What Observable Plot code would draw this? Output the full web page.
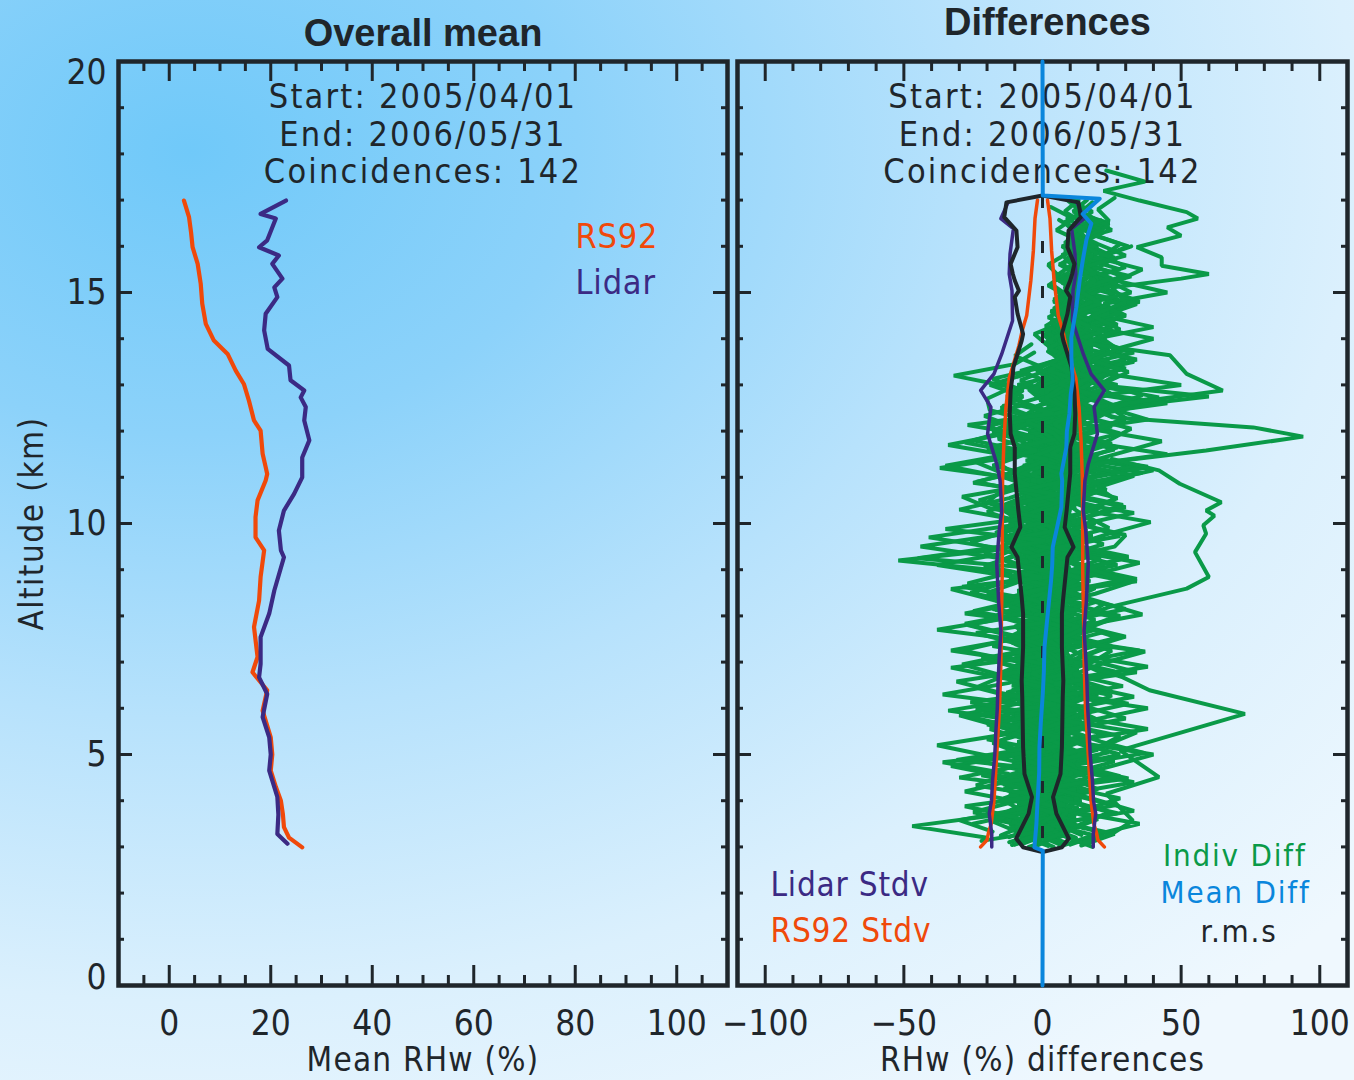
<!DOCTYPE html>
<html><head><meta charset="utf-8">
<script src="https://cdn.jsdelivr.net/npm/d3@7"></script>
<script src="https://cdn.jsdelivr.net/npm/@observablehq/plot@0.6"></script>
<style>
html,body{margin:0;padding:0;}
body{width:1354px;height:1080px;overflow:hidden;position:relative;
 background: radial-gradient(ellipse 115% 105% at 14% 14%, #70c9f9 0%, #8cd2fa 25%, #b7e2fc 50%, #dbf0fd 75%, #eff8fe 100%);}
.panel{position:absolute;top:0;}
svg text{font-stretch:condensed;}
</style></head>
<body>
<div id="left" class="panel" style="left:0px"></div>
<div id="right" class="panel" style="left:730px"></div>
<script>
// ---------- Left panel: overall mean ----------
const rs92Alt  = [2.99,3.2,3.43,3.7,4.0,4.3,4.65,5.0,5.37,5.95,6.39,6.78,7.11,7.76,8.33,8.84,9.42,9.7,10.14,10.5,10.93,11.07,11.22,11.51,12.01,12.23,12.66,13.02,13.31,13.67,13.96,14.32,14.76,15.19,15.62,15.98,16.3,16.63,16.99];
const rs92Mean = [26.2,23.6,22.6,22.4,22.0,21.0,20.0,20.3,20.0,18.4,19.3,16.4,17.4,16.7,17.7,18.0,18.7,17.0,17.0,17.4,19.0,19.3,19.0,18.4,18.0,16.7,15.7,14.7,13.1,11.5,8.8,7.2,6.5,6.2,5.6,4.6,4.3,3.9,2.9];
const lidarAlt  = [3.07,3.28,3.7,4.08,4.65,5.0,5.37,5.81,6.31,6.67,6.96,7.54,8.05,8.55,9.27,9.42,9.85,10.28,10.64,11.0,11.43,11.8,12.23,12.52,12.73,12.88,13.1,13.42,13.78,14.18,14.54,14.9,15.11,15.3,15.62,15.8,15.98,16.13,16.6,16.7,16.99];
const lidarMean = [23.3,21.3,21.5,21.3,19.7,20.0,19.7,18.4,19.3,17.7,18.0,18.0,19.7,20.7,22.6,22.0,21.6,22.6,24.6,26.2,26.2,27.6,26.6,26.9,25.9,26.6,23.9,23.6,19.4,18.7,19.0,21.3,20.7,22.3,20.3,21.6,17.7,19.3,21.0,18.0,23.0];

// ---------- Right panel: differences ----------
const meanDiffAlt = [0,2.92,2.99,3.5,4.08,4.6,5.16,5.7,6.31,6.8,7.32,8.05,8.77,9.1,9.49,9.9,10.35,10.93,11.08,11.65,12.0,12.37,12.8,13.1,13.6,14.03,14.68,15.26,15.69,16.13,16.49,16.7,17.03,17.1,20];
const meanDiff    = [0,0.1,-2.9,-2.2,-1.7,-1.2,-1.1,-0.6,0.1,0.5,0.7,1.9,3.1,3.5,3.7,5.2,6.8,7.1,6.8,8.6,8.8,9.7,10.2,10.9,10.4,10.4,12.2,13.4,14.5,15.8,17.6,14.5,20.6,0.1,0];
const rmsAlt = [2.89,2.99,3.18,3.72,4.08,4.58,5.16,6.24,6.6,7.32,8.05,8.4,9.27,9.49,9.92,10.28,11.08,11.65,11.94,12.37,12.88,13.24,13.38,13.96,14.1,14.54,14.9,15.04,15.26,15.4,15.62,15.98,16.34,16.63,16.95,17.1];
const rms    = [0,7,9.5,5,3.8,6.5,7,7.3,7.5,7,7,7.5,9,11.2,8,8.7,10,10,11.5,11.8,11.5,10.7,10.5,7.5,7,9,10,8.5,10,10.7,11.5,9,9.4,13.8,13,0];
const lidarStdvAlt = [3.0,3.28,3.72,4.0,4.44,5.0,5.52,6.0,6.6,7.1,7.68,8.3,9.13,9.85,10.28,10.93,11.29,11.94,12.52,12.88,13.24,13.67,14.39,15.04,15.4,15.84,16.38,16.6,16.95];
const lidarStdv    = [18.3,18.3,19.2,18.4,18.0,17.2,16.8,16.3,16.0,15.6,15.0,15.8,16.5,15.6,14.7,15.3,16.5,19.8,18.6,22.3,17.5,14.7,10.8,11.0,12.0,11.7,10.5,15.0,12.4];
const rs92StdvAlt = [3.0,3.15,3.3,3.5,4.0,4.5,5.0,6.0,7.0,8.0,9.0,10.0,10.93,11.8,12.5,13.15,13.85,14.18,14.5,15.26,15.9,16.6,17.0];
const rs92Stdv    = [22.3,20.0,19.5,18.5,17.5,17.0,16.5,15.5,15.0,14.8,14.5,14.5,14.4,13.9,13.2,12.0,8.5,7.3,5.7,4.2,3.3,2.7,1.8];

// Individual differences (142 coincidences; a readable subset, 0.25 km steps from each start altitude)
const indivStart = [3.0,3.1,3.05,3.2,3.15,3.0,3.25,3.1,3.0,3.2,3.3,3.0,3.4,3.15,3.35,13.0,12.5,3.05,3.5,3.0,3.2,
                    3.02,3.07,3.12,3.17,3.22,3.27,3.32,3.37,3.42,3.47,12.0,12.1,12.2,12.3,12.8,
                    3.04,3.09,3.14,3.19,3.24,3.29,3.34,3.39,3.44,3.06,3.11,3.16,3.21,3.26,
                    3.13,3.23,3.33,3.03];
const indiv01 = [-5,8,-12,4,14,-3,6,-9,10,2,-7,12,-4,5,-11,7,15,-2,3,-8,9,1,-6,13,4,-10,6,18,2,-5,9,16,3,-7,11,20,5,14,-4,9,22,12,4,17,8,25,13,6,19,11,28,14,7,20,12,18,10];
const indiv02 = [-12,2,-18,-6,5,-14,-3,-22,-8,3,-15,-30,-9,0,-12,-5,6,-18,-10,-2,-25,-7,4,-11,-38,-14,-4,3,-9,-16,-6,5,-12,-2,8,-7,-20,-4,6,1,-8,3,10,2,-3,7,12,4,15,6,2,9,14,5,11,3];
const indiv03 = [10,22,6,15,28,9,18,5,24,12,38,14,7,20,11,26,8,16,30,13,6,19,10,34,15,8,22,12,5,17,27,11,20,9,14,24,32,16,10,25,18,12,30,21,15,27,19,35,24,17,30,22,28,16,24,20,26];
const indiv04 = [-20,-47,-15,-6,-28,-10,2,-18,-38,-12,-5,-34,-8,-24,-14,-29,-9,-4,-38,-13,0,-16,-27,-11,-52,-14,-41,-12,-8,-20,-15,-6,-37,-10,-34,-13,-3,-19,-20,-11,-32,-10,-3];
const indiv05 = [3,-8,12,-2,7,-10,1,9,-6,15,0,-4,8,-9,11,2,-7,5,14,-3,6,-12,4,10,-1,7,-8,13,3,-5,9,1,-10,6,17,2,-6,8,12,0,5,16,9,3,13,7,21,10,4];
const indiv06 = [6,18,35,12,4,20,9,25,40,14,3,18,38,10,5,22,13,35,8,17,28,11,4,34,15,7,26,30,12,20,9,16,28,13,45,18,10,38,24,60,20,14,33,25,40,18,30,22,45,27,36,20,32];
const indiv07 = [-15,-5,-25,-9,2,-12,-33,-7,-18,-4,-10,-24,-6,3,-13,-8,-29,-11,-2,-17,-6,-26,-12,-3,-15,-44,-16,-7,-20,-9,-1,-14,-35,-12,-6,-18,-9,-2,-13,-5];
const indiv08 = [8,-2,4,16,6,-5,10,2,20,7,-3,12,5,18,9,0,14,25,8,3,11,-6,7,15,4,22,9,1,13,30,10,5,17,8,26,12,6,19,40,14,9,22,16,11,25,18,13,21,15,29,17,23,14,19];
const indiv09 = [-3,6,-9,11,0,-14,5,13,-6,2,9,-11,4,-2,16,7,-8,1,10,-5,3,12,-9,6,-1,14,2,-12,7,0,11,-4,5,15,-7,3,9,-2,13,6,-9,8,18,4,11];
const indiv10 = [12,1,7,-4,18,5,10,-1,8,22,3,11,-3,6,15,0,9,4,19,7,-2,12,5,24,9,2,14,6,-5,10,20,8,3,16,11,28,13,7,18,10,22,15,33,17,9,21,14,26,12,19,8,16];
const indiv11 = [-8,-18,-4,-11,0,-22,-7,-13,1,-9,-16,-3,-36,-12,-5,-19,-2,-10,-27,-6,-14,2,-8,-21,-11,-4,-17,-7,-30,-12,0,-9,-16,-5,-25,-10,-3,-14];
const indiv12 = [4,-6,9,2,-4,13,-8,6,0,10,-5,8,3,-10,7,12,-3,5,-7,9,1,16,-4,8,2,-9,12,5,-2,10,7,-6,14,4,9,-1,11,6,16,3,10,19,8,14,5,12,23,10,17,6,13,9,20,11,15,8,13];
const indiv13 = [15,5,26,9,33,12,4,20,28,8,17,3,25,11,38,14,6,22,10,30,13,5,19,35,12,7,24,16,29,9,21,40,15,27,11];
const indiv14 = [-2,-12,3,-7,8,-16,-4,5,-9,1,-20,-6,4,-11,7,-3,-14,2,-8,6,-18,-5,3,-10,9,-2,-15,4,-7,10,-3,-24,-6,5,-9,2,-12,7,0,-5,8,3,12,1,6,15,4,10,2,8];
const indiv15 = [9,20,4,14,-1,11,26,6,17,2,12,31,8,16,3,13,24,7,15,1,10,19,5,27,11,3,16,9,21,4,13,36,12,18,7,25,14,45,16,9,30,19,12,24,15,20];
const indiv16 = [14,25,8,30,17,10,22,34,15,27,12,20,31,18,24,11,16];
const indiv17 = [6,18,3,12,24,9,16,5,20,28,13,7,19,26,15,10,22,14,9];
const indiv18 = [-10,1,-5,7,-14,-2,4,-8,11,-4,-19,0,6,-7,2,-12,8,-1,-9,5,-28,-6,3,-11,1,9,-5,-15,4,-3,7,-9,-1,12,-6,2,-14,5,9,-2,3,-8,6,11,1,7,14,4,9,16];
const indiv19 = [-25,-6,-14,2,-30,-9,-3,-17,-7,4,-22,-11,-1,-16,-5,-33,-10,1,-13,-4,-20,-8,3,-45,-15,-5,-12,-2,-23,-9,0,-18,-6,-28,-11,-3,-15,-7,-19,-5];
const indiv20 = [18,7,14,24,10,2,16,9,28,13,5,20,11,33,14,6,18,25,9,3,15,22,8,17,12,30,10,4,19,13,7,21,16,34,11,6,20,14,26,18,50,22,15,28,19,40,21,15,32,24];
const indiv21 = [0,8,-5,3,12,-3,6,-9,2,10,-6,5,14,-2,1,-8,9,4,-4,11,2,-7,7,13,-1,4,-10,8,3,-5,15,6,-3,9,1,12,-2,7,18,5,11,3,14,8,20,10,6,13];
const indiv22 = [2,-9,7,-3,11,-6,4,-11,9,0,-5,13,-8,3,-2,10,-7,6,-12,8,1,-4,12,-9,5,-1,9,-6,14,2,-8,7,-3,11,4,-5,10,1,15,6,-2,12,8,3,16,9,5,18,11,7,14,10,19,12,8,15,11];
const indiv23 = [-7,4,-2,9,-10,6,0,-5,12,-3,7,-9,3,10,-6,1,-11,8,-1,5,-8,11,2,-4,7,-10,4,13,-2,6,-7,9,0,-5,11,3,-3,8,14,4,-1,10,6,13,2,9,16,7,12,4,10,17,8,13,6];
const indiv24 = [5,-3,10,-8,2,8,-5,13,-1,6,-10,4,9,-4,1,11,-7,5,-2,12,-6,3,8,-9,6,-1,10,-5,2,12,-3,7,-8,4,9,1,13,-2,6,11,3,15,7,2,12,8,17,5,10,14,7,12,9];
const indiv25 = [-1,-10,5,-4,8,-12,1,6,-7,3,-2,10,-9,4,-5,7,-1,-11,5,2,-6,9,-3,4,-8,6,1,-4,11,-6,3,8,-2,5,-9,7,2,10,-1,6,13,3,9,5,12,8,15,6,11,9];
const indiv26 = [9,-1,4,-7,12,2,-4,8,-9,5,14,-2,7,-5,10,0,-8,6,3,11,-3,8,-6,4,13,1,-4,9,5,-7,12,3,8,-1,10,6,14,2,9,17,5,11,7,15,10,6,13,9,18];
const indiv27 = [-5,3,-12,6,-1,9,-6,2,-9,7,-3,11,-8,1,5,-5,10,-2,-10,6,3,-7,9,-1,4,-11,7,0,-4,8,-8,5,11,-2,6,1,-6,9,3,13,-1,7,4,11,1,8,12,5];
const indiv28 = [4,12,-2,7,-6,15,3,-3,9,-8,6,1,13,-4,8,-1,10,5,-7,12,2,-3,14,6,-5,9,1,11,-2,7,16,3,-4,10,5,13,0,8,15,4,11,7,18,9,13,6];
const indiv29 = [-9,0,-4,6,-13,3,-7,8,-2,4,-10,5,-5,9,-1,-8,7,-3,2,-12,6,-1,9,-6,3,-9,8,0,-4,6,-10,4,1,-6,10,-2,5,-7,7,2,-3,9,4,0];
const indiv30 = [13,3,8,-2,11,5,17,0,9,4,-3,12,6,15,1,8,-1,10,19,4,7,-4,13,2,9,16,5,-2,11,7,14,3,20,8,12,5,17,9,14,22,10,16,12];
const indiv31 = [-4,7,-9,2,-1,10,-6,4,-11,6,0,-5,8,-2,12,-7,3,-3,9,-9,5,1,-6,11,-1,7,-4,10,2,-8,6,-2,13,4,-5,8,1,11,-3,6,9,2];
const indiv32 = [8,20,4,15,27,10,18,6,23,12,30,15,9,21,14,26,11,19,8,15,12];
const indiv33 = [2,12,22,7,16,28,11,5,19,13,24,9,17,32,14,20,10,25,16,12];
const indiv34 = [15,5,10,24,13,3,18,9,21,14,6,17,27,12,22,8,16,24,13,18];
const indiv35 = [10,26,16,7,20,34,14,22,10,28,18,12,25,15,30,20,11,17,14];
const indiv36 = [4,14,9,19,6,16,11,24,8,15,20,10,18,13,22,16,12];
const indiv37 = [-11,3,-6,10,-2,7,-13,1,9,-4,14,-8,2,-1,11,-10,5,8,-6,0,12,-3,6,-12,9,2,-7,13,-4,4,10,-9,1,7,15,-5,8,3,-2,12,6,0,14,9,4,17,7,12,15,10];
const indiv38 = [7,-6,1,13,-9,5,-2,8,-11,3,10,-5,6,-13,2,9,-3,12,-7,4,0,11,-8,7,-4,14,1,-10,6,3,-6,10,-1,8,-8,5,13,-3,9,2,11,-2,7,16,5,10,3,13,8,11];
const indiv39 = [-3,10,-8,4,-12,7,0,12,-5,3,-9,9,1,-6,13,-2,6,-10,8,-4,11,3,-7,5,-1,10,-11,4,8,-5,12,0,-8,6,14,-3,9,2,11,-4,7,13,4,10,1,8,15,6,12];
const indiv40 = [12,-2,6,-9,3,11,-6,1,8,-12,5,-1,10,-7,4,14,-4,7,-9,2,9,-3,12,-8,5,0,11,-6,3,8,-2,13,-5,6,1,10,-3,9,16,4,11,6,14,2,9,12,7,10];
const indiv41 = [-8,5,-1,9,-14,2,7,-4,11,-9,4,-2,8,-6,13,0,-11,6,-3,10,-7,3,12,-5,7,-1,9,-10,5,2,-6,11,-2,8,4,-4,12,6,-1,10,3,14,7,11,5,13,9];
const indiv42 = [3,-11,8,-4,12,-1,6,-8,10,-3,2,13,-7,5,-12,9,1,-5,11,-2,7,-9,4,10,-6,8,0,12,-4,6,-8,9,3,-3,11,1,7,13,-1,9,5,12,2,10,14,8];
const indiv43 = [-6,9,-2,5,-10,11,-5,3,8,-13,6,0,10,-4,7,-9,12,-1,4,-7,9,2,-11,6,-3,13,1,-6,8,-2,10,-8,5,11,-4,7,2,12,-1,8,4,13,6,10,3];
const indiv44 = [10,0,-7,6,13,-3,8,-9,4,11,-5,2,9,-12,7,-1,14,3,-6,10,-4,5,12,-8,6,1,-3,11,-10,7,4,13,-2,9,-6,10,5,15,3,11,8,14,6,12];
const indiv45 = [-2,-13,6,1,-8,10,-4,7,-11,3,12,-6,5,-1,9,-9,2,13,-3,8,-7,4,11,-5,6,0,10,-12,3,8,-4,12,1,-7,9,5,14,-1,8,11,4,13,9];
const indiv46 = [6,-4,11,-1,-9,8,3,-6,12,-3,5,-10,9,1,-5,13,-2,7,-8,10,0,-12,6,4,-7,11,-3,8,2,-9,13,5,-4,9,-1,12,3,-6,10,7,15,2,11,6,18,9,4,14,10,20,12,7,16,11,21];
const indiv47 = [-9,2,-4,7,-12,4,9,-6,1,10,-8,3,-2,11,-5,6,-10,8,2,-7,12,-1,5,-11,9,-3,7,1,-8,10,-2,4,12,-6,8,3,-3,13,6,1,11,16,5,9,14,3,12,19,8,13,6,17,10,15,9];
const indiv48 = [1,12,-5,8,-2,14,-9,6,3,-7,10,-4,7,0,-11,9,4,-6,13,-1,8,-9,5,11,-3,7,-12,10,2,-5,12,-2,9,6,-8,11,4,14,0,9,17,5,12,8,22,11,6,15,10,19,13,8,16,12];
const indiv49 = [-12,-2,5,-8,9,-5,2,-10,7,0,-6,11,-3,4,-13,6,1,-7,10,-4,3,-9,8,-1,5,-11,9,2,-5,7,-8,11,0,-3,8,4,-6,10,1,7,12,3,9,6,13,2,10,15,7,12,9,14];
const indiv50 = [14,4,9,-3,12,7,0,15,5,-2,10,3,16,6,-4,11,8,1,13,-1,9,5,17,2,-5,12,6,10,0,14,4,8,18,3,11,7,15,9,20,6,13,10,24,12,17,8,21,14,19,11];
const indiv51 = [-22,4,-9,-28,2,-15,8,-31,-5,6,-19,-2,-26,5,-12,-33,0,-8,-24,3,-17,-6,-29,7,-11,-21,1,-35,-4,-14,6,-25,-9,2,-20,-3,-27,4,-13,-7,-18,0,-10,-4];
const indiv52 = [20,3,27,9,-2,31,12,4,24,34,8,18,1,29,11,22,37,6,15,26,2,19,32,10,21,5,28,14,33,7,23,17,38,12,25,9,30,16,42,20,27,13,24];
const indiv53 = [-18,-30,-7,3,-24,-12,-36,1,-20,-9,-27,5,-15,-31,-4,-22,2,-11,-28,-6,-17,-33,0,-21,-8,-26,-13,4,-19,-29,-5,-14,-24,-2,-16,-10,-21,-6,-12,-3];
const indiv54 = [14,26,7,33,19,3,28,12,37,21,9,30,16,25,4,34,18,10,27,14,36,22,8,29,17,31,11,24,39,15,26,20,33,13,28,43,19,30,24,36,22,31,18,27,21];
// outlying individual profiles (irregular altitudes)
const outlierTopAlt = [17.64,17.4,17.2,16.99,16.74,16.6,16.41,16.23,15.98,15.76,15.58,15.4,15.3,15.11,14.8,14.5,14.2,13.9,13.64,13.24,12.88,12.6,12.3];
const outlierTop    = [23,37,22,35,52,56,45,50,34,43,43,60,50,25,30,18,28,15,46,52,65,30,20];
const outlierSpikeAlt = [12.6,12.3,12.08,11.88,11.58,11.3,11.0];
const outlierSpike    = [15,25,76,94,59,20,12];
const outlierMidAlt = [11.4,11.15,10.86,10.46,10.28,10.17,9.96,9.78,9.38,8.84,8.59,8.19,7.9];
const outlierMid    = [25,42,49.5,64.5,59,62,58,59,55,60,52,24,10];
const outlierLowAlt = [7.0,6.67,6.39,5.88,5.09,4.51,4.15,3.57,3.28,3.1];
const outlierLow    = [12,29,38.6,73,28,42,23,32.6,25,15];

// tick values
const leftMajor = [0,20,40,60,80,100];
const leftMinor = [-5,5,10,15,25,30,35,45,50,55,65,70,75,85,90,95,105];
const rightMajor = [-100,-50,0,50,100];
const rightMinor = [-90,-80,-70,-60,-40,-30,-20,-10,10,20,30,40,60,70,80,90];
const yMajor = [0,5,10,15,20];
const yMinor = [1,2,3,4,6,7,8,9,11,12,13,14,16,17,18,19];

// ---------- build ----------
const C = {ink:"#1f262b", orange:"#f0490a", purple:"#3b2a84", green:"#0a9a48", blue:"#0a86dc"};
const FONT = "'DejaVu Sans Condensed','DejaVu Sans',sans-serif";
const TFONT = "'Liberation Sans',Arial,sans-serif";
const H = 1080, MT = 61, MB = 95, IH = H - MT - MB;
const T = {lineAnchor: "middle", fontFamily: FONT};

function frameMarks(iw, xMaj, xMin) {
  return [
    Plot.frame({stroke: C.ink, strokeWidth: 4.5}),
    Plot.ruleX(xMaj, {x: d => d, insetTop: IH - 20, stroke: C.ink, strokeWidth: 3}),
    Plot.ruleX(xMaj, {x: d => d, insetBottom: IH - 20, stroke: C.ink, strokeWidth: 3}),
    Plot.ruleX(xMin, {x: d => d, insetTop: IH - 10, stroke: C.ink, strokeWidth: 3}),
    Plot.ruleX(xMin, {x: d => d, insetBottom: IH - 10, stroke: C.ink, strokeWidth: 3}),
    Plot.ruleY(yMajor, {y: d => d, insetRight: iw - 14, stroke: C.ink, strokeWidth: 3}),
    Plot.ruleY(yMajor, {y: d => d, insetLeft: iw - 14, stroke: C.ink, strokeWidth: 3}),
    Plot.ruleY(yMinor, {y: d => d, insetRight: iw - 6, stroke: C.ink, strokeWidth: 3}),
    Plot.ruleY(yMinor, {y: d => d, insetLeft: iw - 6, stroke: C.ink, strokeWidth: 3}),
    Plot.text(xMaj, {...T, x: d => d, frameAnchor: "bottom", dy: 38, text: d => (d < 0 ? "\u2212" + Math.abs(d) : String(d)), fontSize: 35, fill: C.ink})
  ];
}
function infoMarks() {
  const lines = ["Start: 2005/04/01", "End: 2006/05/31", "Coincidences: 142"];
  return lines.map((t, i) => Plot.text([t], {...T, frameAnchor: "top", dy: 36 + i * 37.5, text: d => d, fontSize: 34, fill: C.ink}));
}
const zip = (a, b) => a.map((y, i) => ({alt: y, v: b[i]}));
const yLab = (vals, dy) => Plot.text(vals, {...T, y: d => d, frameAnchor: "left", dx: -12, dy, textAnchor: "end", text: d => String(d), fontSize: 35, fill: C.ink});

// Left
const LW = 732, LML = 118, LMR = 5, LIW = LW - LML - LMR;
const left = Plot.plot({
  width: LW, height: H, marginLeft: LML, marginRight: LMR, marginTop: MT, marginBottom: MB,
  x: {domain: [-10, 110], axis: null}, y: {domain: [0, 20], axis: null},
  style: {background: "transparent", overflow: "visible"},
  marks: [
    Plot.line(zip(rs92Alt, rs92Mean), {x: "v", y: "alt", stroke: C.orange, strokeWidth: 4.2}),
    Plot.line(zip(lidarAlt, lidarMean), {x: "v", y: "alt", stroke: C.purple, strokeWidth: 4.2}),
    ...frameMarks(LIW, leftMajor, leftMinor),
    yLab(yMajor.filter(d => d > 0 && d < 20), 0),
    yLab(yMajor.filter(d => d === 20), 11),
    yLab(yMajor.filter(d => d === 0), -8),
    ...infoMarks(),
    Plot.text(["Overall mean"], {...T, frameAnchor: "top", dy: -28, text: d => d, fontSize: 38, fontWeight: "bold", fontFamily: TFONT, fill: C.ink}),
    Plot.text(["RS92"], {...T, frameAnchor: "top-left", dx: 457, dy: 176, textAnchor: "start", text: d => d, fontSize: 34, fill: C.orange}),
    Plot.text(["Lidar"], {...T, frameAnchor: "top-left", dx: 457, dy: 222, textAnchor: "start", text: d => d, fontSize: 34, fill: C.purple}),
    Plot.text(["Mean RHw (%)"], {...T, frameAnchor: "bottom", dy: 75, text: d => d, fontSize: 33, fill: C.ink}),
    Plot.text(["Altitude (km)"], {...T, frameAnchor: "left", dx: -86, rotate: -90, textAnchor: "middle", text: d => d, fontSize: 33, fill: C.ink})
  ]
});
document.getElementById("left").append(left);

// Right
const indivAll = [indiv01,indiv02,indiv03,indiv04,indiv05,indiv06,indiv07,indiv08,indiv09,indiv10,indiv11,indiv12,indiv13,indiv14,indiv15,indiv16,indiv17,indiv18,
  indiv19,indiv20,indiv21,indiv22,indiv23,indiv24,indiv25,indiv26,indiv27,indiv28,indiv29,indiv30,indiv31,indiv32,indiv33,indiv34,indiv35,indiv36,
  indiv37,indiv38,indiv39,indiv40,indiv41,indiv42,indiv43,indiv44,indiv45,indiv46,indiv47,indiv48,indiv49,indiv50,indiv51,indiv52,indiv53,indiv54];
const greenRows = [];
indivAll.forEach((vals, k) => vals.forEach((v, i) => greenRows.push({id: k, alt: indivStart[k] + 0.25 * i, v})));
[[outlierTopAlt, outlierTop], [outlierSpikeAlt, outlierSpike], [outlierMidAlt, outlierMid], [outlierLowAlt, outlierLow]]
  .forEach(([a, b], j) => a.forEach((y, i) => greenRows.push({id: 100 + j, alt: y, v: b[i]})));

const RW = 624, RML = 7, RMR = 7, RIW = RW - RML - RMR;
const pm = (a, b, s) => a.map((y, i) => ({alt: y, v: s * b[i]}));
const right = Plot.plot({
  width: RW, height: H, marginLeft: RML, marginRight: RMR, marginTop: MT, marginBottom: MB,
  x: {domain: [-110, 110], axis: null}, y: {domain: [0, 20], axis: null},
  style: {background: "transparent", overflow: "visible"},
  marks: [
    ...infoMarks(),
    Plot.line(greenRows, {x: "v", y: "alt", z: "id", stroke: C.green, strokeWidth: 4, strokeLinejoin: "miter"}),
    Plot.ruleX([0], {x: d => d, stroke: C.ink, strokeWidth: 3, strokeDasharray: "12,33"}),
    Plot.line(pm(rs92StdvAlt, rs92Stdv, 1), {x: "v", y: "alt", stroke: C.orange, strokeWidth: 3.5}),
    Plot.line(pm(rs92StdvAlt, rs92Stdv, -1), {x: "v", y: "alt", stroke: C.orange, strokeWidth: 3.5}),
    Plot.line(pm(lidarStdvAlt, lidarStdv, 1), {x: "v", y: "alt", stroke: C.purple, strokeWidth: 3.5}),
    Plot.line(pm(lidarStdvAlt, lidarStdv, -1), {x: "v", y: "alt", stroke: C.purple, strokeWidth: 3.5}),
    Plot.line(pm(rmsAlt, rms, 1), {x: "v", y: "alt", stroke: C.ink, strokeWidth: 4}),
    Plot.line(pm(rmsAlt, rms, -1), {x: "v", y: "alt", stroke: C.ink, strokeWidth: 4}),
    ...frameMarks(RIW, rightMajor, rightMinor),
    Plot.line(zip(meanDiffAlt, meanDiff), {x: "v", y: "alt", stroke: C.blue, strokeWidth: 4}),
    Plot.text(["Differences"], {...T, frameAnchor: "top", dx: 5, dy: -39, text: d => d, fontSize: 38, fontWeight: "bold", fontFamily: TFONT, fill: C.ink}),
    Plot.text(["Lidar Stdv"], {...T, frameAnchor: "bottom-left", dx: 33, dy: -100, textAnchor: "start", text: d => d, fontSize: 33, fill: C.purple}),
    Plot.text(["RS92 Stdv"], {...T, frameAnchor: "bottom-left", dx: 33, dy: -54, textAnchor: "start", text: d => d, fontSize: 33, fill: C.orange}),
    Plot.text(["Indiv Diff"], {...T, frameAnchor: "bottom-right", dx: -41, dy: -129, textAnchor: "end", text: d => d, fontSize: 31, fill: C.green}),
    Plot.text(["Mean Diff"], {...T, frameAnchor: "bottom-right", dx: -37, dy: -92, textAnchor: "end", text: d => d, fontSize: 31, fill: C.blue}),
    Plot.text(["r.m.s"], {...T, frameAnchor: "bottom-right", dx: -70, dy: -53, textAnchor: "end", text: d => d, fontSize: 31, fill: C.ink}),
    Plot.text(["RHw (%) differences"], {...T, frameAnchor: "bottom", dy: 75, text: d => d, fontSize: 33, fill: C.ink})
  ]
});
document.getElementById("right").append(right);

// letter spacing to mimic the wide-set plotting font of the original
const spacing = [[/^(Start|End|Coincidences)/, "2.2px"], [/^(Mean RHw|RHw)/, "1.2px"], [/^Altitude/, "1.5px"],
                 [/^(Indiv|Mean Diff|r\.m\.s)/, "1.8px"], [/^(RS92|Lidar)/, "0.8px"]];
d3.selectAll("svg text").each(function () {
  const s = this.textContent;
  for (const [re, ls] of spacing) if (re.test(s)) { this.style.letterSpacing = ls; break; }
});
</script>
</body></html>
